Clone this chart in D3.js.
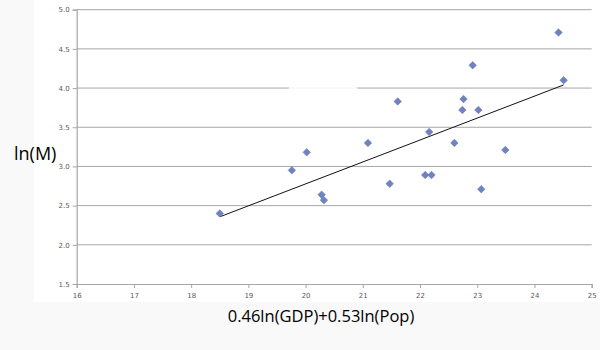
<!DOCTYPE html>
<html>
<head>
<meta charset="utf-8">
<script src="https://cdn.jsdelivr.net/npm/d3@7"></script>
<style>
  html, body { margin: 0; padding: 0; background: #f9f9f9; }
  svg { display: block; }
</style>
</head>
<body>
<svg id="chart" width="600" height="350"></svg>
<script>
// Composite size index per observation
const xValues = [18.50, 19.76, 20.02, 20.28, 20.32, 21.09, 21.47, 21.61, 22.09, 22.20,
                 22.16, 22.60, 22.74, 22.76, 23.02, 22.92, 23.07, 23.49, 24.42, 24.51];
// ln(M) per observation
const yValues = [2.40, 2.95, 3.18, 2.64, 2.57, 3.30, 2.78, 3.83, 2.89, 2.89,
                 3.44, 3.30, 3.72, 3.86, 3.72, 4.29, 2.71, 3.21, 4.71, 4.10];
// Fitted trend line end points
const trendX = [18.51, 24.51];
const trendY = [2.36, 4.04];
// Axis ticks
const xTicks = [16, 17, 18, 19, 20, 21, 22, 23, 24, 25];
const yTicks = [1.5, 2.0, 2.5, 3.0, 3.5, 4.0, 4.5, 5.0];

const svg = d3.select("#chart");
const plot = { left: 76.7, right: 591.7, top: 9.7, bottom: 284 };

// White chart panel over the light page background
svg.append("rect")
  .attr("x", 34).attr("y", 0).attr("width", 566).attr("height", 302)
  .attr("fill", "#ffffff");

const x = d3.scaleLinear().domain([16, 25]).range([plot.left, plot.right]);
const y = d3.scaleLinear().domain([1.5, 5.0]).range([plot.bottom, plot.top]);

// Horizontal gridlines
svg.append("g")
  .selectAll("line")
  .data(yTicks.slice(1))
  .join("line")
  .attr("x1", plot.left).attr("x2", plot.right)
  .attr("y1", d => y(d)).attr("y2", d => y(d))
  .attr("stroke", "#a6a6a6").attr("stroke-width", 1);

// Y axis
const yAxis = svg.append("g")
  .attr("transform", `translate(${plot.left},0)`)
  .call(d3.axisLeft(y).tickValues(yTicks).tickFormat(d3.format(".1f")).tickSize(4).tickPadding(3));

// X axis
const xAxis = svg.append("g")
  .attr("transform", `translate(0,${plot.bottom})`)
  .call(d3.axisBottom(x).tickValues(xTicks).tickFormat(d3.format("d")).tickSize(4).tickPadding(5));

[yAxis, xAxis].forEach(ax => {
  ax.select(".domain").attr("stroke", "#a6a6a6").attr("stroke-width", 1.2);
  ax.selectAll(".tick line").attr("stroke", "#a6a6a6");
  ax.selectAll(".tick text")
    .attr("fill", "#5a5a5a")
    .style("font-family", "'DejaVu Sans', sans-serif")
    .style("font-size", "7px");
});

// Faint smudge over the upper gridline
svg.append("rect")
  .attr("x", 281).attr("y", 62).attr("width", 94).attr("height", 22)
  .attr("rx", 10).attr("fill", "#ffffff").attr("opacity", 0.9);
svg.append("rect")
  .attr("x", 288).attr("y", 84).attr("width", 70).attr("height", 15)
  .attr("rx", 7).attr("fill", "#ffffff").attr("opacity", 0.85);

// Trend line
const trend = trendX.map((d, i) => [d, trendY[i]]);
svg.append("path")
  .datum(trend)
  .attr("d", d3.line().x(d => x(d[0])).y(d => y(d[1])))
  .attr("stroke", "#111111").attr("stroke-width", 1).attr("fill", "none");

// Diamond markers
const diamond = d3.symbol().type(d3.symbolDiamond2).size(36);
svg.append("g")
  .selectAll("path")
  .data(xValues.map((d, i) => [d, yValues[i]]))
  .join("path")
  .attr("transform", d => `translate(${x(d[0])},${y(d[1])})`)
  .attr("d", diamond)
  .attr("fill", "#6f82c2")
  .attr("stroke", "#5c6fb0").attr("stroke-width", 0.5);

// Axis titles
svg.append("text")
  .attr("x", 14).attr("y", 160)
  .style("font-family", "'Open Sans', sans-serif")
  .style("font-size", "18px")
  .attr("fill", "#000")
  .text("ln(M)");

svg.append("text")
  .attr("x", 321).attr("y", 322)
  .attr("text-anchor", "middle")
  .style("font-family", "'Open Sans', sans-serif")
  .style("font-size", "16.5px")
  .attr("fill", "#000")
  .text("0.46ln(GDP)+0.53ln(Pop)");
</script>
</body>
</html>
